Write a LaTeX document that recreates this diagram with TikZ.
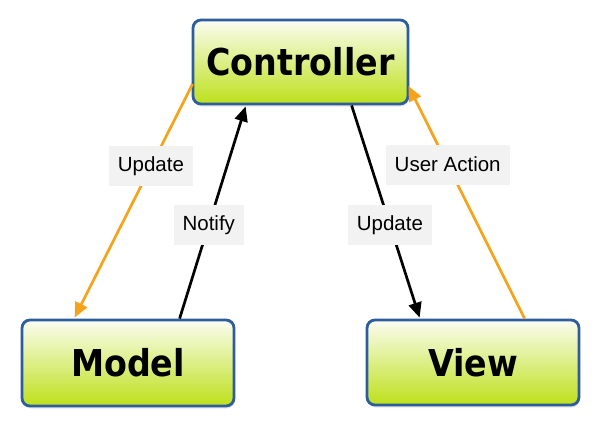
\documentclass[tikz,border=0pt]{standalone}
\usepackage{fontspec}
\setmainfont{Liberation Sans}
\newfontfamily\boxfont{DejaVu Sans Condensed}
\usetikzlibrary{arrows.meta,shadows,calc}
\definecolor{bordblue}{HTML}{2D5D9F}
\definecolor{limebot}{HTML}{BDE01A}
\definecolor{limemid}{HTML}{DCEE94}
\definecolor{limetop}{HTML}{FBFDF2}
\definecolor{orangeln}{HTML}{F7A21B}
\definecolor{lblgray}{HTML}{F2F2F2}
\tikzset{
  mvcbox/.style={draw=bordblue, line width=2.8pt, rounded corners=8pt,
    top color=limetop, middle color=limemid, bottom color=limebot,
    drop shadow={shadow xshift=1pt, shadow yshift=-2.5pt, opacity=0.2},
    font=\boxfont\bfseries\fontsize{37}{40}\selectfont, text=black},
  lbl/.style={fill=lblgray, font=\fontsize{20.5}{22}\selectfont, text=black,
    minimum height=40pt, inner ysep=0pt, inner xsep=9pt},
  orgarrow/.style={draw=orangeln, line width=2.7pt, -{Triangle[length=15pt,width=13pt]}},
  blkarrow/.style={draw=black, line width=2.7pt, -{Triangle[length=15pt,width=13pt]}}
}
\begin{document}
\begin{tikzpicture}[x=1pt,y=-1pt]
\useasboundingbox (0,0) rectangle (600,429);
\node[mvcbox, minimum width=215pt, minimum height=84pt] (ctrl) at (300.5,62) {Controller};
\node[mvcbox, minimum width=212pt, minimum height=86pt] (model) at (128,363) {Model};
\node[mvcbox, minimum width=212pt, minimum height=85pt] (view) at (473,362.5) {View};
\coordinate (c1) at ($(ctrl.west)+(1,22)$);
\coordinate (m1) at ($(model.north west)+(54,-1)$);
\coordinate (m2) at ($(model.north west)+(159,0)$);
\coordinate (c2) at ($(ctrl.south west)+(54,1)$);
\coordinate (c3) at ($(ctrl.south west)+(160,0)$);
\coordinate (v1) at ($(view.north west)+(54,-1)$);
\coordinate (v2) at ($(view.north west)+(159,0)$);
\coordinate (c4) at ($(ctrl.east)+(-1,24)$);
\draw[orgarrow] (c1) -- (m1) node[lbl, pos=0.353] (lu) {Update};
\draw[blkarrow] (m2) -- (c2) node[lbl, pos=0.442] (ln) {Notify};
\draw[blkarrow] (c3) -- (v1) node[lbl, pos=0.563] (lv) {Update};
\draw[orgarrow] (v2) -- (c4) node[lbl, pos=0.662] (la) {User Action};
\end{tikzpicture}
\end{document}
